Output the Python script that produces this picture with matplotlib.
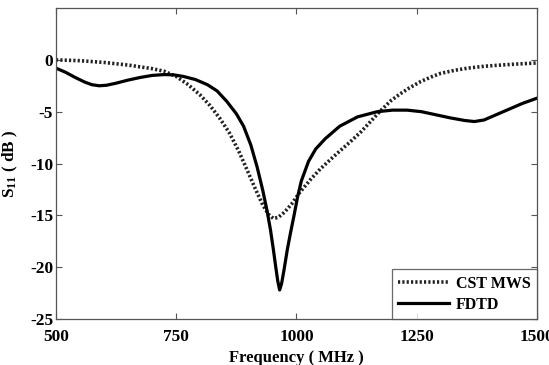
import matplotlib
matplotlib.use("Agg")
import matplotlib.pyplot as plt

plt.rcParams['font.family'] = ['Liberation Serif', 'DejaVu Serif']
plt.rcParams['font.weight'] = 'bold'
plt.rcParams['mathtext.fontset'] = 'custom'
plt.rcParams['mathtext.rm'] = 'Liberation Serif:bold'
plt.rcParams['mathtext.it'] = 'Liberation Serif:bold'
plt.rcParams['mathtext.bf'] = 'Liberation Serif:bold'

# CST MWS series
cst_freq = [500, 550, 600, 650, 700, 725, 750, 775, 800, 820, 840, 860, 880,
            900, 915, 930, 942, 952, 962, 975, 990, 1005, 1030, 1050, 1071,
            1090, 1112, 1135, 1155, 1175, 1196, 1215, 1235, 1258, 1280, 1300,
            1330, 1356, 1390, 1425, 1460, 1500]
cst_db = [0.0, -0.08, -0.25, -0.5, -0.85, -1.1, -1.6, -2.4, -3.4, -4.4, -5.6,
          -7.0, -8.8, -10.9, -12.5, -14.0, -14.9, -15.3, -15.2, -14.7, -13.9,
          -12.9, -11.5, -10.5, -9.6, -8.8, -7.9, -6.9, -5.9, -4.9, -3.95,
          -3.3, -2.7, -2.1, -1.65, -1.3, -1.0, -0.8, -0.62, -0.5, -0.4, -0.3]

# FDTD series
fdtd_freq = [500, 520, 540, 560, 575, 590, 605, 625, 650, 675, 700, 725, 745,
             765, 790, 815, 835, 855, 875, 890, 905, 918, 930, 939, 946, 952,
             957, 961, 965, 969, 974, 981, 988, 995, 1002, 1010, 1025, 1040,
             1060, 1090, 1127, 1168, 1200, 1230, 1260, 1290, 1320, 1350, 1370,
             1390, 1410, 1440, 1470, 1500]
fdtd_db = [-0.8, -1.2, -1.7, -2.15, -2.4, -2.5, -2.45, -2.25, -1.95, -1.7,
           -1.5, -1.42, -1.45, -1.6, -1.9, -2.4, -3.0, -4.0, -5.2, -6.4, -8.2,
           -10.3, -12.6, -14.6, -16.4, -18.3, -20.0, -21.3, -22.2, -21.6,
           -20.3, -18.3, -16.6, -15.0, -13.3, -11.7, -9.8, -8.6, -7.6, -6.4,
           -5.5, -5.0, -4.85, -4.85, -5.0, -5.3, -5.6, -5.85, -5.95, -5.8,
           -5.4, -4.8, -4.2, -3.7]

x_ticks = [500, 750, 1000, 1250, 1500]
y_ticks = [0, -5, -10, -15, -20, -25]

fig = plt.figure(figsize=(5.49, 3.65), dpi=100)
ax = fig.add_axes([0.102, 0.126, 0.876, 0.852])

ax.plot(cst_freq, cst_db, color='#222222', linestyle=(0, (0.6, 0.6)), lw=2.6,
        label='CST MWS')
ax.plot(fdtd_freq, fdtd_db, color='black', linestyle='-', lw=2.3, label='FDTD')

ax.set_xlim(500, 1500)
ax.set_ylim(-25, 5)
ax.set_xticks(x_ticks)
ax.set_yticks(y_ticks)
ax.set_xticklabels([str(t) for t in x_ticks])
ax.set_yticklabels([str(t) for t in y_ticks])
ax.tick_params(direction='in', top=True, right=True, length=4, width=0.8,
               labelsize=12.5, color='#555555')
ax.tick_params(axis='x', pad=7)
ax.tick_params(axis='y', pad=2)
for s in ax.spines.values():
    s.set_color('#555555')
    s.set_linewidth(0.9)

ax.set_xlabel('Frequency ( MHz )', fontsize=12, fontweight='bold', labelpad=4)
ax.set_ylabel(r'S$_{11}$ ( dB )', fontsize=12.3, fontweight='bold', labelpad=7)

leg = ax.legend(loc='lower right', fontsize=11.5, frameon=True, fancybox=False,
                borderaxespad=0, handlelength=3.2, handletextpad=0.4,
                borderpad=0.4, labelspacing=0.3)
leg.get_frame().set_edgecolor('#444444')
leg.get_frame().set_linewidth(0.9)

fig.savefig('out.png', dpi=100)
